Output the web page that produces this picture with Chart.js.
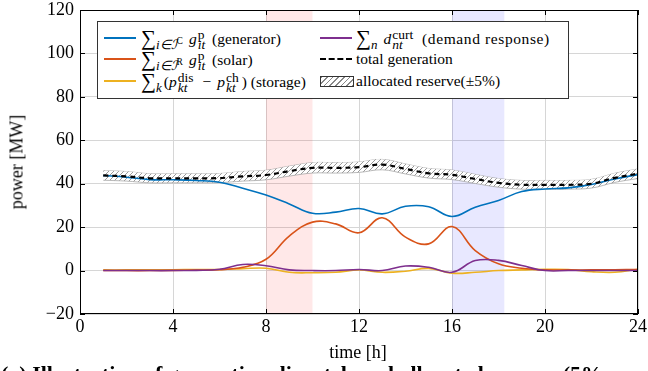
<!DOCTYPE html>
<html>
<head>
<meta charset="utf-8">
<script src="https://cdn.jsdelivr.net/npm/chart.js@4.4.1/dist/chart.umd.min.js"></script>
<style>
  body { margin: 0; background: #fff; font-family: "Liberation Serif", serif; overflow: hidden; }
  #wrap { position: relative; width: 648px; height: 371px; overflow: hidden; }
  #chart { position: absolute; left: 0; top: 0; }
  .lbl { position: absolute; white-space: nowrap; color: #000; }
  .legend { position: absolute; left: 97px; top: 21px; width: 470px; height: 76px; border: 1px solid #333; background: #fff; }
  .it { position: absolute; white-space: nowrap; font-size: 15.5px; line-height: 20px; }
  .sw { position: absolute; height: 0; width: 32px; border-top: 2px solid; }
  .sum { font-size: 21px; vertical-align: -1px; }
  .lo { font-size: 13px; vertical-align: -5px; font-style: italic; margin-right: 6px; }
  .lo sup { font-size: 9.5px; font-style: normal; vertical-align: 5px; }
  .ss { display: inline-flex; flex-direction: column; vertical-align: 5px; font-size: 13.5px; line-height: 10px; margin-left: 1px; margin-right: 3px; }
  .ss span { display: block; }
  .ss i { display: block; }
  .op { margin: 0 6px; }
  .dash { position: absolute; height: 0; width: 32px; border-top: 2.2px dashed #000; }
  .hb { position: absolute; width: 32px; height: 9px; border: 1px solid #333;
        background: repeating-linear-gradient(-45deg, #888 0 1px, #fff 1px 4px); }
</style>
</head>
<body>
<div id="wrap">
  <canvas id="chart" width="648" height="371"></canvas>

  <div class="legend">
    <div class="sw" style="left:6px;top:15px;border-color:#0072BD"></div>
    <div class="it" style="left:43px;top:6px"><span class="sum">∑</span><span class="lo">i∈ℐ<sup>C</sup></span><i>g</i><span class="ss"><span>p</span><i>it</i></span> (generator)</div>

    <div class="sw" style="left:6px;top:36px;border-color:#D95319"></div>
    <div class="it" style="left:43px;top:27px"><span class="sum">∑</span><span class="lo">i∈ℐ<sup>R</sup></span><i>g</i><span class="ss"><span>p</span><i>it</i></span> (solar)</div>

    <div class="sw" style="left:6px;top:58px;border-color:#EDB120"></div>
    <div class="it" style="left:43px;top:49px"><span class="sum">∑</span><span class="lo" style="margin-right:2px">k</span>(<i>p</i><span class="ss"><span>dis</span><i>kt</i></span><span class="op">−</span><i>p</i><span class="ss"><span>ch</span><i>kt</i></span>) (storage)</div>

    <div class="sw" style="left:222px;top:15px;border-color:#7E2F8E"></div>
    <div class="it" style="left:258px;top:6px"><span class="sum">∑</span><span class="lo">n</span><i>d</i><span class="ss" style="margin-right:5px"><span>curt</span><i>nt</i></span> <span style="letter-spacing:0.6px">(demand response)</span></div>

    <div class="dash" style="left:222px;top:36px"></div>
    <div class="it" style="left:258px;top:27px">total generation</div>

    <div class="hb" style="left:222px;top:54px"></div>
    <div class="it" style="left:258px;top:49px">allocated reserve(±5%)</div>
  </div>

  <div class="lbl" style="left:17px;top:162px;font-size:18px;transform:translate(-50%,-50%) rotate(-90deg)">power [MW]</div>
  <div class="lbl" style="left:358px;top:352px;font-size:18px;transform:translate(-50%,-50%)">time [h]</div>
  <div class="lbl" style="left:1px;top:363px;font-size:22px;line-height:22px;font-weight:bold">(a) Illustration of generation dispatch and allocated reserve (5% or</div>
</div>

<script>
const hours = [1, 2, 3, 4, 5, 6, 7, 8, 9, 10, 11, 12, 13, 14, 15, 16, 17, 18, 19, 20, 21, 22, 23, 24];

const generator = [43.8, 43.0, 41.9, 41.8, 41.5, 40.7, 37.9, 34.8, 30.7, 26.4, 26.9, 28.6, 26.1, 29.6, 29.4, 24.9, 29.2, 32.3, 36.4, 37.6, 38.1, 39.6, 42.2, 44.2];
const solar = [0, 0, 0, 0.1, 0.2, 0.4, 1.5, 5.2, 15.9, 22.3, 21.5, 17.4, 24.3, 15.4, 12.3, 20.3, 9.2, 3.1, 1.1, 0.3, 0.3, 0.3, 0.4, 0.5];
const storage = [0.3, 0.3, 0.4, 0.4, 0.5, 0.5, 0.9, 1.1, -0.8, -1.0, -0.8, 0.3, -0.8, -0.3, 1.0, -1.2, -0.8, 0, 0.3, 0.6, 0.5, -0.5, -0.8, 0.6];
const demand = [0, 0, 0, 0, 0.1, 0.6, 2.8, 2.2, 0.3, 0, 0, 0.5, 0, 2.1, 1.5, -0.8, 4.6, 4.7, 2.3, 0, 0, 0, 0, 0];
const totalGen = [43.8, 43.4, 42.5, 42.5, 42.5, 42.6, 43.4, 44.0, 45.8, 47.3, 47.3, 47.6, 48.8, 46.8, 44.8, 44.1, 42.2, 40.4, 39.5, 39.5, 39.5, 40.0, 42.7, 44.6];
const reserveHigh = [46.0, 45.6, 44.6, 44.6, 44.6, 44.7, 45.6, 46.2, 48.1, 49.7, 49.7, 50.0, 51.2, 49.1, 47.0, 46.3, 44.3, 42.4, 41.5, 41.5, 41.5, 42.0, 44.8, 46.8];
const reserveLow = [41.6, 41.2, 40.4, 40.4, 40.4, 40.5, 41.2, 41.8, 43.5, 44.9, 44.9, 45.2, 46.4, 44.5, 42.6, 41.9, 40.1, 38.4, 37.5, 37.5, 37.5, 38.0, 40.6, 42.4];

const xTicks = [0, 4, 8, 12, 16, 20, 24];
const yTicks = [-20, 0, 20, 40, 60, 80, 100, 120];

// shaded windows [start, end, colour]
const windows = [
  [8, 10, "rgba(255, 0, 0, 0.09)"],
  [16, 18.25, "rgba(0, 0, 255, 0.09)"],
];

const canvas = document.getElementById("chart");
const ctx = canvas.getContext("2d");

function hatchPattern() {
  const c = document.createElement("canvas");
  c.width = 5;
  c.height = 5;
  const g = c.getContext("2d");
  g.fillStyle = "#fff";
  g.fillRect(0, 0, 5, 5);
  g.strokeStyle = "#9a9a9a";
  g.lineWidth = 1;
  g.beginPath();
  g.moveTo(0, 5);
  g.lineTo(5, 0);
  g.moveTo(-1, 1);
  g.lineTo(1, -1);
  g.moveTo(4, 6);
  g.lineTo(6, 4);
  g.stroke();
  return ctx.createPattern(c, "repeat");
}

function pairs(values) {
  return hours.map((h, i) => ({ x: h, y: values[i] }));
}

const windowPlugin = {
  id: "windows",
  beforeDatasetsDraw(chart) {
    const { ctx, chartArea, scales } = chart;
    ctx.save();
    windows.forEach((w) => {
      const x1 = scales.x.getPixelForValue(w[0]);
      const x2 = scales.x.getPixelForValue(w[1]);
      ctx.fillStyle = w[2];
      ctx.fillRect(x1, chartArea.top, x2 - x1, chartArea.bottom - chartArea.top);
    });
    ctx.restore();
  },
};

const framePlugin = {
  id: "frame",
  afterDraw(chart) {
    const { ctx, chartArea, scales } = chart;
    const len = 5;
    ctx.save();
    ctx.strokeStyle = "#000";
    ctx.lineWidth = 1;
    ctx.beginPath();
    xTicks.forEach((v) => {
      const px = Math.round(scales.x.getPixelForValue(v)) + 0.5;
      ctx.moveTo(px, chartArea.bottom);
      ctx.lineTo(px, chartArea.bottom - len);
      ctx.moveTo(px, chartArea.top);
      ctx.lineTo(px, chartArea.top + len);
    });
    yTicks.forEach((v) => {
      const py = Math.round(scales.y.getPixelForValue(v)) + 0.5;
      ctx.moveTo(chartArea.left, py);
      ctx.lineTo(chartArea.left + len, py);
      ctx.moveTo(chartArea.right, py);
      ctx.lineTo(chartArea.right - len, py);
    });
    ctx.stroke();
    ctx.strokeRect(chartArea.left + 0.5, chartArea.top + 0.5, chartArea.right - chartArea.left - 1, chartArea.bottom - chartArea.top - 1);
    ctx.restore();
  },
};

const tickFont = { family: "'Liberation Serif', serif", size: 18 };

new Chart(canvas, {
  type: "line",
  data: {
    datasets: [
      { label: "reserve high", data: pairs(reserveHigh), borderColor: "#a8a8a8", borderWidth: 0.8, fill: false, order: 6 },
      { label: "allocated reserve(±5%)", data: pairs(reserveLow), borderColor: "#a8a8a8", borderWidth: 0.8, fill: "-1", backgroundColor: hatchPattern(), order: 5 },
      { label: "storage", data: pairs(storage), borderColor: "#EDB120", borderWidth: 1.6, order: 4 },
      { label: "solar", data: pairs(solar), borderColor: "#D95319", borderWidth: 1.6, order: 3 },
      { label: "generator", data: pairs(generator), borderColor: "#0072BD", borderWidth: 1.6, order: 2 },
      { label: "demand response", data: pairs(demand), borderColor: "#7E2F8E", borderWidth: 1.6, order: 1 },
      { label: "total generation", data: pairs(totalGen), borderColor: "#000", borderWidth: 2.2, borderDash: [5, 4], order: 0 },
    ],
  },
  options: {
    responsive: false,
    animation: false,
    layout: { padding: { left: 0, right: 10, top: 10, bottom: 33 } },
    elements: {
      point: { radius: 0 },
      line: { tension: 0.4, fill: false },
    },
    plugins: {
      legend: { display: false },
      tooltip: { enabled: false },
    },
    scales: {
      x: {
        type: "linear",
        min: 0,
        max: 24,
        afterFit(scale) {
          scale.height = 24;
          scale.paddingLeft = 0;
          scale.paddingRight = 0;
        },
        afterBuildTicks(scale) { scale.ticks = xTicks.map((v) => ({ value: v })); },
        ticks: { font: tickFont, color: "#000", padding: 2, maxRotation: 0 },
        grid: { color: "#d6d6d6", drawTicks: false },
        border: { display: false },
      },
      y: {
        min: -20,
        max: 120,
        afterFit(scale) {
          scale.width = 80;
          scale.paddingTop = 0;
          scale.paddingBottom = 0;
        },
        afterBuildTicks(scale) { scale.ticks = yTicks.map((v) => ({ value: v })); },
        ticks: {
          font: tickFont,
          color: "#000",
          padding: 6,
          callback: (v) => String(v).replace("-", "\u2212"),
        },
        grid: { color: "#d6d6d6", drawTicks: false },
        border: { display: false },
      },
    },
  },
  plugins: [windowPlugin, framePlugin],
});
</script>
</body>
</html>
